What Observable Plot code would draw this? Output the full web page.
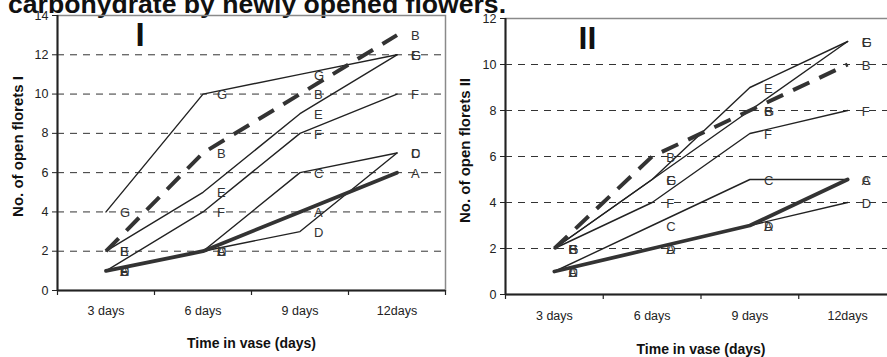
<!DOCTYPE html>
<html>
<head>
<meta charset="utf-8">
<script src="https://cdn.jsdelivr.net/npm/d3@7"></script>
<script src="https://cdn.jsdelivr.net/npm/@observablehq/plot@0.6"></script>
<style>
html, body { margin: 0; padding: 0; background: #fff; overflow: hidden; }
#wrap { position: relative; width: 887px; height: 357px; overflow: hidden; font-family: "Liberation Sans", Arial, sans-serif; }
#title { position: absolute; left: 8px; top: -9px; font-weight: bold; font-size: 26.6px; line-height: 1; white-space: nowrap; color: #111; }
.panel { position: absolute; top: 0; }
</style>
</head>
<body>
<div id="wrap">
  <div id="title">carbohydrate by newly opened flowers.</div>
  <div id="p1" class="panel" style="left:0px;"></div>
  <div id="p2" class="panel" style="left:447px;"></div>
</div>
<script>
const FONT = '"Liberation Sans", Arial, sans-serif';

// Categories
const days = ["3 days", "6 days", "9 days", "12days"];
const seriesNames = ["A", "B", "C", "D", "E", "F", "G"];

// Panel I values (per series, at 3, 6, 9, 12 days)
const p1A = [1, 2, 4, 6];
const p1B = [2, 7, 10, 13];
const p1C = [1, 2, 6, 7];
const p1D = [1, 2, 3, 7];
const p1E = [2, 5, 9, 12];
const p1F = [1, 4, 8, 10];
const p1G = [4, 10, 11, 12];

// Panel II values
const p2A = [1, 2, 3, 5];
const p2B = [2, 6, 8, 10];
const p2C = [1, 3, 5, 5];
const p2D = [1, 2, 3, 4];
const p2E = [2, 5, 9, 11];
const p2F = [2, 4, 7, 8];
const p2G = [2, 5, 8, 11];

// Ticks
const p1Ticks = [0, 2, 4, 6, 8, 10, 12, 14];
const p1Grid = [2, 4, 6, 8, 10, 12];
const p2Ticks = [0, 2, 4, 6, 8, 10, 12];
const p2Grid = [2, 4, 6, 8, 10];

const yLabel1 = "No. of open florets I";
const yLabel2 = "No. of open florets II";
const xLabel = "Time in vase (days)";

function rowsOf(arrays) {
  const rows = [];
  seriesNames.forEach((s, i) => {
    arrays[i].forEach((v, j) => rows.push({series: s, day: days[j], value: v}));
  });
  return rows;
}

const rows1 = rowsOf([p1A, p1B, p1C, p1D, p1E, p1F, p1G]);
const rows2 = rowsOf([p2A, p2B, p2C, p2D, p2E, p2F, p2G]);

function makePanel(cfg) {
  const {width, height, ml, mr, mt, mb, ymax, ticks, grid, rows, ylabel, roman, romanSize,
         romanDx, romanDy, yTitleDx, yTitleDy, xTitleDy, tickPad} = cfg;
  const bw = (width - ml - mr) / days.length;
  const ppu = (height - mt - mb) / ymax;
  const thin = rows.filter(d => d.series !== "A" && d.series !== "B");
  const thick = rows.filter(d => d.series === "A");
  const dashed = rows.filter(d => d.series === "B");
  return Plot.plot({
    width, height,
    marginLeft: ml, marginRight: mr, marginTop: mt, marginBottom: mb,
    style: {fontFamily: FONT, background: "transparent", color: "#222", overflow: "visible", maxWidth: "none"},
    x: {type: "point", domain: days, padding: 0.5, round: false},
    y: {domain: [0, ymax]},
    marks: [
      Plot.ruleY(grid, {stroke: "#333", strokeDasharray: "7,6", strokeWidth: 1}),
      Plot.frame({stroke: "#8a8a8a", strokeWidth: 1.5}),
      Plot.ruleY([0], {stroke: "#222", strokeWidth: 2}),
      Plot.ruleX([days[0]], {dx: -bw / 2, y1: 0, y2: ymax, stroke: "#222", strokeWidth: 2}),
      Plot.ruleX(days, {dx: -bw / 2, y1: 0, y2: -5 / ppu, stroke: "#222", strokeWidth: 1.2}),
      Plot.ruleX([days[days.length - 1]], {dx: bw / 2, y1: 0, y2: -5 / ppu, stroke: "#222", strokeWidth: 1.2}),
      Plot.axisY(ticks, {tickSize: 5, tickPadding: 4, fontSize: 12.5, label: null, stroke: "#222"}),
      Plot.axisX({tickSize: 0, tickPadding: tickPad, fontSize: 12.5, label: null}),
      Plot.line(thin, {x: "day", y: "value", z: "series", stroke: "#222", strokeWidth: 1.4}),
      Plot.line(thick, {x: "day", y: "value", stroke: "#333", strokeWidth: 3.8}),
      Plot.line(dashed, {x: "day", y: "value", stroke: "#333", strokeWidth: 4, strokeDasharray: "18,11", strokeLinecap: "butt"}),
      Plot.text(rows, {x: "day", y: "value", text: "series", dx: 14, dy: 1, textAnchor: "start", fontSize: 13, fill: "#333"}),
      Plot.text([ylabel], {frameAnchor: "left", textAnchor: "middle", lineAnchor: "middle", dx: yTitleDx, dy: yTitleDy, rotate: -90, fontSize: 15, fontWeight: "bold", fill: "#111"}),
      Plot.text([xLabel], {frameAnchor: "bottom", textAnchor: "middle", lineAnchor: "middle", dy: xTitleDy, fontSize: 14, fontWeight: "bold", fill: "#111"}),
      Plot.text([roman], {frameAnchor: "top-left", textAnchor: "middle", lineAnchor: "middle", dx: romanDx, dy: romanDy, fontSize: romanSize, fontWeight: "bold", fill: "#111"})
    ]
  });
}

document.getElementById("p1").appendChild(makePanel({
  width: 450, height: 357, ml: 57, mr: 5, mt: 15, mb: 67,
  ymax: 14, ticks: p1Ticks, grid: p1Grid, rows: rows1, ylabel: yLabel1,
  roman: "I", romanSize: 33, romanDx: 82.5, romanDy: 20,
  yTitleDx: -39, yTitleDy: -6.5, xTitleDy: 53, tickPad: 16
}));

document.getElementById("p2").appendChild(makePanel({
  width: 460, height: 357, ml: 58, mr: 11, mt: 18, mb: 63,
  ymax: 12, ticks: p2Ticks, grid: p2Grid, rows: rows2, ylabel: yLabel2,
  roman: "II", romanSize: 32, romanDx: 82, romanDy: 20,
  yTitleDx: -40, yTitleDy: -6, xTitleDy: 55, tickPad: 17
}));
</script>
</body>
</html>
